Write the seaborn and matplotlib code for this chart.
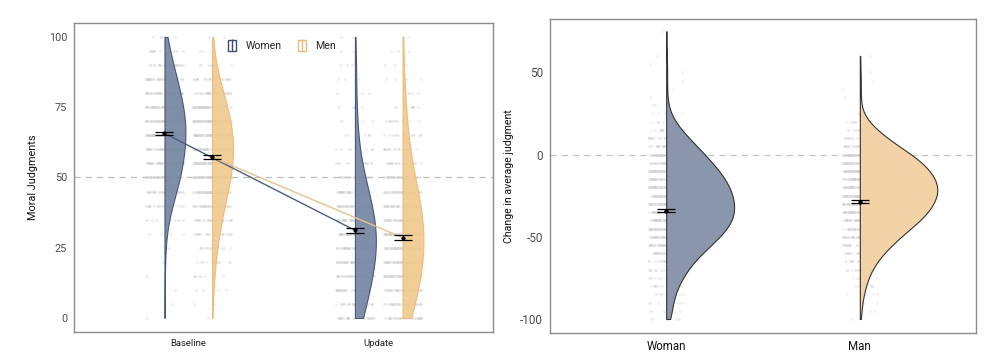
import numpy as np
import pandas as pd
import matplotlib
matplotlib.use("Agg")
import matplotlib.pyplot as plt
import seaborn as sns
from matplotlib.patches import Patch
from matplotlib.lines import Line2D

# ---- data ----
phases = ["Baseline", "Update"]
genders = ["Women", "Men"]

# counts of responses at each judgment level (0, 5, ..., 100)
judgment_levels = list(range(0, 101, 5))
women_baseline = [1, 1, 1, 1, 1, 2, 5, 9, 20, 36, 48, 52, 60, 63, 63, 57, 45, 36, 27, 14, 5]
men_baseline = [1, 2, 4, 8, 12, 16, 24, 32, 44, 56, 68, 72, 80, 76, 68, 56, 40, 24, 12, 4, 2]
women_update = [26, 28, 33, 42, 48, 54, 54, 48, 42, 33, 21, 15, 9, 6, 5, 4, 3, 3, 3, 2, 2]
men_update = [32, 34, 42, 51, 57, 60, 60, 57, 51, 42, 33, 24, 18, 15, 12, 9, 6, 5, 3, 3, 2]

judgment_means = {"Women": [65.7, 31.2], "Men": [57.2, 28.6]}
judgment_se = {"Women": [0.6, 0.8], "Men": [0.65, 0.75]}

# counts of change scores at each level (-100, -95, ..., 75)
change_levels = list(range(-100, 76, 5))
woman_change = [6, 6, 7, 9, 13, 17, 23, 29, 38, 48, 57, 66, 71, 73, 73, 71, 68, 63,
                57, 49, 41, 33, 24, 16, 9, 4, 2, 1, 1, 1, 1, 1, 1, 0, 0, 1]
man_change = [1, 2, 2, 4, 6, 8, 12, 17, 23, 32, 40, 50, 60, 68, 73, 77, 78, 75,
              70, 62, 52, 38, 27, 17, 8, 3, 1, 1, 1, 1, 1, 0, 1, 0, 0, 0]
change_groups = ["Woman", "Man"]
change_means = [-34.3, -28.6]
change_se = [0.9, 0.9]

# ---- styling ----
DODGE = 0.125
FILL_LEFT = {"Women": "#7586a2", "Men": "#f0c98e"}
EDGE_LEFT = {"Women": "#3d5072", "Men": "#e8bb78"}
LINE_LEFT = {"Women": "#4b5f80", "Men": "#e6c28c"}
FILL_RIGHT = {"Woman": "#8996ab", "Man": "#f3d3a6"}
RAIN = "#d0d0d0"
FRAME = "#8c8c8c"
TICK_TXT = "#4d4d4d"

sns.set_theme(style="white")
plt.rcParams["font.family"] = ["Roboto", "DejaVu Sans"]


def expand(levels, counts):
    return np.repeat(np.asarray(levels, dtype=float), counts)


def style_frame(ax):
    for sp in ax.spines.values():
        sp.set_color(FRAME)
        sp.set_linewidth(1.0)
    ax.tick_params(axis="both", length=3, width=0.8, color=FRAME, pad=2)


def half_violins(ax, df, **kws):
    # split violins with every row on the "right" hue level -> only right halves get drawn
    before = len(ax.collections)
    sns.violinplot(data=df, x="pos", y="value", hue="side", hue_order=["left", "right"],
                   split=True, dodge=True, native_scale=True, inner=None, cut=0,
                   palette={"left": "white", "right": "white"}, legend=False, ax=ax, **kws)
    return ax.collections[before:]


fig = plt.figure(figsize=(10, 3.59), dpi=100)

# ================= left panel =================
ax1 = fig.add_axes([0.074, 0.0752, 0.419, 0.861])
left_counts = {("Baseline", "Women"): women_baseline, ("Baseline", "Men"): men_baseline,
               ("Update", "Women"): women_update, ("Update", "Men"): men_update}


def left_pos(phase, g):
    return phases.index(phase) + (-DODGE if g == "Women" else DODGE)


rows = []
for (phase, g), cnt in left_counts.items():
    rows.append(pd.DataFrame({"pos": left_pos(phase, g), "value": expand(judgment_levels, cnt),
                              "gender": g, "side": "right"}))
left_df = pd.concat(rows, ignore_index=True)

ax1.axhline(50, color="#bdbdbd", lw=0.9, ls=(0, (5, 4)), zorder=0)
sns.stripplot(data=left_df, x="pos", y="value", native_scale=True, jitter=0.4,
              color=RAIN, size=2.0, alpha=0.38, linewidth=0, ax=ax1, zorder=1)

colls = half_violins(ax1, left_df, density_norm="width", width=0.88, linewidth=0.8, bw_adjust=1.6)
order = sorted(left_counts.keys(), key=lambda k: left_pos(*k))
for coll, (phase, g) in zip(colls, order):
    coll.set_facecolor(FILL_LEFT[g])
    coll.set_edgecolor(EDGE_LEFT[g])
    coll.set_alpha(0.92)
    coll.set_zorder(2)

mean_rows = []
for g in genders:
    for i, phase in enumerate(phases):
        mean_rows.append({"pos": left_pos(phase, g), "mean": judgment_means[g][i],
                          "se": judgment_se[g][i], "gender": g})
mean_df = pd.DataFrame(mean_rows)
sns.lineplot(data=mean_df, x="pos", y="mean", hue="gender", palette=LINE_LEFT,
             linewidth=1.0, legend=False, ax=ax1, zorder=3)
ax1.errorbar(mean_df["pos"], mean_df["mean"], yerr=mean_df["se"], fmt="o", ms=2,
             color="black", elinewidth=0.8, capsize=6.5, capthick=0.9, zorder=4)

ax1.set_xlim(-0.6, 1.6)
ax1.set_ylim(-5, 105)
ax1.set_xticks([0, 1])
ax1.set_xticklabels(phases, fontsize=6.8, color="#222222")
ax1.set_yticks([0, 25, 50, 75, 100])
ax1.set_yticklabels(["0", "25", "50", "75", "100"], fontsize=7.8, color=TICK_TXT)
ax1.set_xlabel("")
ax1.set_ylabel("Moral Judgments", fontsize=7.8, color="#111111")
ax1.yaxis.set_label_coords(-0.086, 0.5)
style_frame(ax1)

handles = [(Patch(facecolor="none", edgecolor=EDGE_LEFT[g], linewidth=1.0),
            Line2D([], [], marker="|", ls="", color=EDGE_LEFT[g], ms=8, mew=1.0)) for g in genders]
ax1.legend(handles, genders, loc="center", bbox_to_anchor=(0.497, 0.926), ncol=2, frameon=False,
           fontsize=7.6, handlelength=0.7, handleheight=1.2, handletextpad=0.9, columnspacing=1.6)

# ================= right panel =================
ax2 = fig.add_axes([0.55, 0.0724, 0.426, 0.875])
rows = []
for i, (g, cnt) in enumerate(zip(change_groups, [woman_change, man_change])):
    rows.append(pd.DataFrame({"pos": float(i), "value": expand(change_levels, cnt),
                              "group": g, "side": "right"}))
right_df = pd.concat(rows, ignore_index=True)

ax2.axhline(0, color="#c4c4c4", lw=0.9, ls=(0, (5, 4)), zorder=0)
sns.stripplot(data=right_df, x="pos", y="value", native_scale=True, jitter=0.09,
              color=RAIN, size=2.0, alpha=0.32, linewidth=0, ax=ax2, zorder=1)
colls = half_violins(ax2, right_df, density_norm="area", width=0.8, linewidth=0.8, bw_adjust=0.9)
for coll, g in zip(colls, change_groups):
    coll.set_facecolor(FILL_RIGHT[g])
    coll.set_edgecolor("#333333")
    coll.set_zorder(2)

ax2.errorbar(range(len(change_groups)), change_means, yerr=change_se, fmt="o", ms=2.2,
             color="black", elinewidth=0.8, capsize=6.5, capthick=0.9, zorder=4)

ax2.set_xlim(-0.6, 1.6)
ax2.set_ylim(-108.5, 82.5)
ax2.set_xticks([0, 1])
ax2.set_xticklabels(change_groups, fontsize=8.3, color="#111111")
ax2.set_yticks([-100, -50, 0, 50])
ax2.set_yticklabels(["-100", "-50", "0", "50"], fontsize=8.5, color=TICK_TXT)
ax2.set_xlabel("")
ax2.set_ylabel("Change in average judgment", fontsize=7.6, color="#111111")
ax2.yaxis.set_label_coords(-0.085, 0.5)
style_frame(ax2)

fig.savefig("out.png", dpi=100)
